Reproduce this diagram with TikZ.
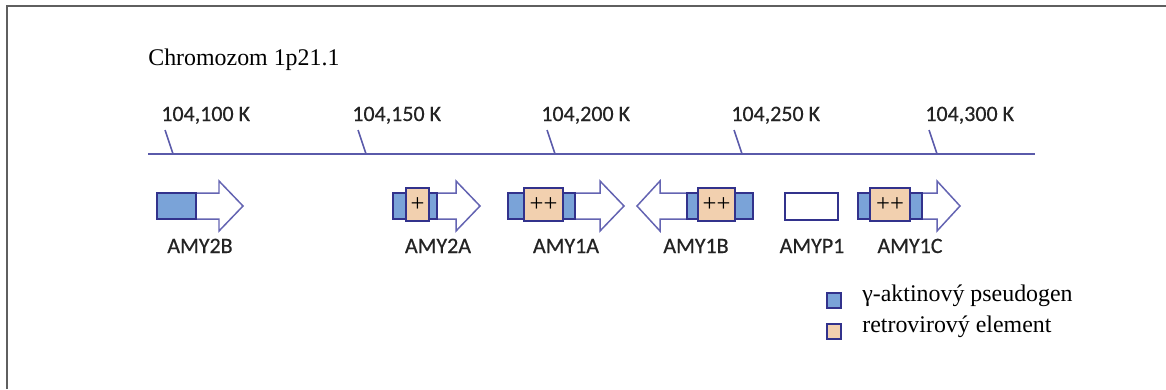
\documentclass[tikz,border=0pt]{standalone}
\usepackage{fontspec}
\setmainfont{Liberation Serif}
\newfontfamily\genefont[FakeBold=0.5]{Carlito}
\definecolor{axiscol}{RGB}{90,90,170}
\definecolor{boxline}{RGB}{50,50,140}
\definecolor{bluefill}{RGB}{122,163,216}
\definecolor{orangefill}{RGB}{242,208,175}
\definecolor{arrowline}{RGB}{100,100,178}
\definecolor{labtext}{RGB}{35,35,35}
\definecolor{framecol}{RGB}{95,95,95}
\tikzset{
  axisline/.style={draw=axiscol, line width=1.1pt},
  tickline/.style={draw=axiscol, line width=0.9pt},
  arrowshape/.style={draw=arrowline, fill=white, line width=0.85pt, line join=miter},
  bluebox/.style={draw=boxline, fill=bluefill, line width=1pt},
  orangebox/.style={draw=boxline, fill=orangefill, line width=1pt},
  whitebox/.style={draw=boxline, fill=white, line width=1pt},
  ticklabel/.style={font=\genefont\fontsize{12.5pt}{14pt}\selectfont, text=labtext, inner sep=0pt, anchor=base west},
  genelabel/.style={font=\genefont\fontsize{12.5pt}{14pt}\selectfont, text=labtext, inner sep=0pt, anchor=base},
  plusmark/.style={font=\fontsize{14pt}{16pt}\selectfont, text=black, inner sep=0pt},
  serifbig/.style={font=\fontsize{13.6pt}{16pt}\selectfont, text=black, inner sep=0pt, anchor=base west},
  legendsq/.style={draw=boxline, line width=0.8pt},
}
\newcommand{\rarrowshape}[3]{% x0, head base, tip
  \path[arrowshape] (#1,193) -- (#2,193) -- (#2,181) -- (#3,206) -- (#2,231) -- (#2,219) -- (#1,219) -- cycle;}
\begin{document}
\begin{tikzpicture}[x=0.02cm,y=-0.02cm]
\useasboundingbox (0,0) rectangle (1166,389);
% frame
\draw[framecol, line width=1.1pt] (7,389) -- (7,6) -- (1166,6);
% title
\node[serifbig] (title) at (148,65) {Chromozom 1p21.1};
% axis
\draw[axisline] (148,154) -- (1035,154);
\foreach \t/\lx/\lab [count=\i] in {165/161/{104,100 K},358/352/{104,150 K},547/541/{104,200 K},734/731/{104,250 K},929/925/{104,300 K}}{
  \draw[tickline] (\t,130) -- (\t+8,154);
  \node[ticklabel] (tick\i) at (\lx,121) {\lab};
}
% AMY2B
\rarrowshape{157}{219}{243}
\path[bluebox] (157,193) rectangle (196,219);
\node[genelabel] (amy2b) at (200,253) {AMY2B};
% AMY2A
\rarrowshape{393}{456}{480}
\path[bluebox] (393,193) rectangle (437,219);
\path[orangebox] (406,188) rectangle (429,221);
\node[plusmark] (p2a) at (417.5,205) {+};
\node[genelabel] (amy2a) at (438,253) {AMY2A};
% AMY1A
\rarrowshape{508}{600}{624}
\path[bluebox] (508,193) rectangle (575,219);
\path[orangebox] (524,188) rectangle (563,221);
\node[plusmark] (p1a) at (543.5,205) {++};
\node[genelabel] (amy1a) at (566,253) {AMY1A};
% AMY1B (left pointing)
\path[arrowshape] (753,193) -- (660,193) -- (660,181) -- (637,206) -- (660,231) -- (660,219) -- (753,219) -- cycle;
\path[bluebox] (687,193) rectangle (753,219);
\path[orangebox] (698,188) rectangle (735,221);
\node[plusmark] (p1b) at (716.5,205) {++};
\node[genelabel] (amy1b) at (696,253) {AMY1B};
% AMYP1
\path[whitebox] (785,193) rectangle (838,220);
\node[genelabel] (amyp1) at (812,253) {AMYP1};
% AMY1C
\rarrowshape{858}{937}{960}
\path[bluebox] (858,193) rectangle (922,219);
\path[orangebox] (870,188) rectangle (910,221);
\node[plusmark] (p1c) at (890,205) {++};
\node[genelabel] (amy1c) at (910,253) {AMY1C};
% legend
\path[legendsq, fill=bluefill] (827,293) rectangle (841,308);
\node[serifbig] (leg1) at (862,301) {γ-aktinový pseudogen};
\path[legendsq, fill=orangefill] (827,324) rectangle (841,339);
\node[serifbig] (leg2) at (862,332) {retrovirový element};
\end{tikzpicture}
\end{document}
